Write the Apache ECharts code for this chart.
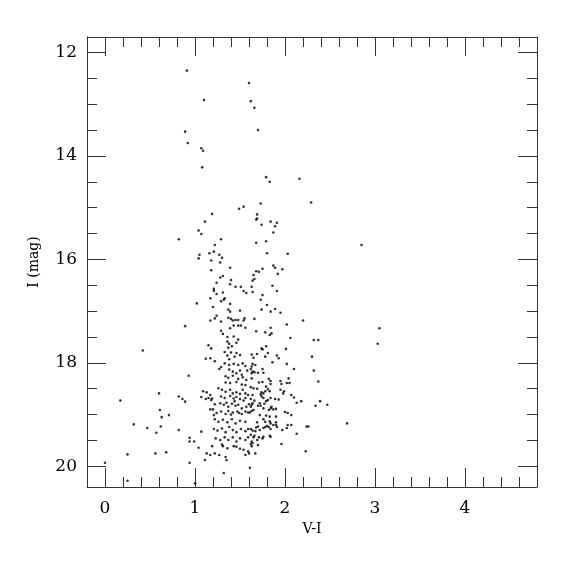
<!DOCTYPE html>
<html><head><meta charset="utf-8">
<script src="https://cdn.jsdelivr.net/npm/echarts@6/dist/echarts.min.js"></script>
<style>html,body{margin:0;padding:0;background:#fff}#c{width:575px;height:575px}</style>
</head><body><div id="c"></div>
<script>
// V-I colour values
var vi = [
0.91,1.60,1.10,1.62,1.66,1.70,0.89,0.92,1.07,1.09,1.08,1.79,1.83,2.16,2.29,1.73,1.54,1.49,1.19,1.69,1.69,1.68,1.74,1.84,1.91,1.89,1.87,1.11,1.04,1.07,0.82,1.29,
1.68,1.22,1.05,1.04,1.16,1.21,1.27,1.30,1.18,1.28,1.39,1.18,1.68,1.71,1.65,1.31,1.28,1.66,1.40,1.24,1.39,1.64,1.45,1.51,1.63,1.21,1.21,1.54,1.57,1.64,1.24,1.31,1.17,1.33,1.32,1.29,1.39,1.02,1.20,1.37,1.39,1.50,1.24,1.22,1.17,1.29,1.37,1.40,1.42,1.45,1.48,1.54,1.55,1.66,1.43,1.48,1.51,1.39,1.56,0.89,1.68,1.29,1.31,1.36,1.43,1.48,1.15,1.18,
1.79,2.85,1.80,2.03,1.87,1.89,1.97,1.75,1.92,1.86,1.91,1.75,1.73,1.80,1.74,1.89,1.84,1.95,2.20,2.02,1.84,1.78,1.85,1.83,3.05,3.03,2.06,2.32,2.37,1.79,1.74,1.75,2.01,1.69,1.81,1.63,1.91,1.78,1.65,1.93,2.30,
1.86,2.02,1.64,1.67,1.63,2.10,1.75,1.76,1.62,1.64,1.66,1.70,1.63,2.32,1.82,2.04,1.63,2.37,1.71,1.75,1.84,1.84,1.95,1.96,2.02,2.05,1.62,1.65,1.69,1.79,1.81,1.83,1.78,1.76,1.99,1.98,2.10,1.95,1.74,1.73,1.74,1.64,1.62,2.07,1.64,1.63,1.62,1.66,1.76,1.81,1.84,1.79,1.89,1.93,2.18,2.13,2.39,1.72,1.70,1.73,1.76,1.77,1.84,1.85,1.87,1.90,1.82,2.00,2.03,2.07,2.34,2.47,1.65,1.63,1.61,1.72,1.79,1.90,1.83,1.78,1.76,1.83,1.84,1.87,1.90,1.69,1.70,1.68,1.72,1.76,1.78,1.80,1.82,1.84,1.90,1.91,1.97,2.02,2.03,2.07,2.24,2.26,2.13,2.69,1.62,1.64,1.62,1.67,1.66,1.65,1.71,1.76,1.75,1.83,1.84,1.63,1.69,1.63,1.64,1.70,1.96,1.67,2.23,1.61,
0.42,1.36,1.38,1.41,1.37,1.46,1.33,1.40,1.46,1.50,1.36,1.44,1.38,1.12,1.17,1.22,1.29,1.27,1.33,1.38,1.43,1.48,1.53,1.56,1.38,1.42,1.46,1.50,1.52,1.58,0.93,1.34,1.37,1.42,1.48,1.53,1.57,1.34,1.39,1.46,1.52,1.56,1.26,1.30,1.34,1.39,1.42,1.46,1.50,1.09,1.13,1.17,1.53,1.56,1.59,0.82,0.86,0.89,1.07,1.12,1.15,1.18,1.19,1.29,1.33,1.39,1.43,1.46,1.50,1.54,1.56,1.28,1.32,1.37,1.41,1.45,1.48,1.52,1.57,1.17,1.20,
0.60,0.61,0.63,0.71,0.47,0.57,0.62,0.82,0.56,0.68,0.94,0.99,0.94,1.04,1.11,0.94,1.07,1.21,1.24,1.29,1.34,1.37,1.42,1.47,1.52,1.56,1.59,1.22,1.26,1.31,1.36,1.41,1.45,1.50,1.56,1.21,1.25,1.30,1.34,1.38,1.42,1.46,1.51,1.56,1.59,1.23,1.28,1.33,1.37,1.42,1.46,1.50,1.56,1.59,1.13,1.17,1.22,1.27,1.31,1.30,1.36,1.46,1.50,1.54,1.59,1.60,1.34,1.35,1.32,1.00,
0.17,0.32,0.25,0.00,0.25,1.19,1.43,1.56,1.62,1.22,1.35,1.44,1.60,1.40,1.49
];
// I magnitudes, same order
var imag = [
12.35,12.59,12.92,12.94,13.07,13.50,13.53,13.75,13.85,13.90,14.22,14.41,14.50,14.44,14.90,14.92,14.98,15.02,15.12,15.13,15.21,15.23,15.33,15.27,15.29,15.36,15.48,15.27,15.44,15.51,15.61,15.61,
15.68,15.72,15.91,15.98,15.88,15.85,15.91,15.97,16.02,16.06,16.16,16.21,16.23,16.24,16.30,16.32,16.35,16.38,16.40,16.45,16.48,16.41,16.53,16.53,16.53,16.57,16.61,16.61,16.65,16.63,16.67,16.64,16.75,16.75,16.78,16.81,16.86,16.85,16.92,16.97,17.01,16.99,17.09,17.14,17.18,17.20,17.13,17.15,17.18,17.17,17.17,17.18,17.14,17.15,17.28,17.28,17.28,17.33,17.32,17.29,17.39,17.38,17.44,17.50,17.49,17.55,17.66,17.72,
15.65,15.72,15.88,15.89,16.12,16.16,16.19,16.18,16.28,16.51,16.61,16.69,16.78,16.88,16.97,16.96,17.01,17.03,17.18,17.26,17.32,17.41,17.43,17.46,17.33,17.63,17.52,17.56,17.56,17.68,17.72,17.74,17.73,17.83,17.81,17.84,17.86,17.88,17.90,17.91,17.88,
17.99,18.02,18.02,18.04,18.07,18.12,18.12,18.19,18.12,18.17,18.18,18.19,18.20,18.15,18.31,18.30,18.30,18.36,18.38,18.37,18.35,18.41,18.35,18.41,18.39,18.39,18.47,18.49,18.50,18.46,18.51,18.55,18.55,18.59,18.55,18.59,18.67,18.52,18.57,18.61,18.65,18.62,18.70,18.62,18.78,18.81,18.85,18.73,18.68,18.72,18.68,18.74,18.70,18.71,18.74,18.77,18.74,18.78,18.83,18.83,18.88,18.79,18.88,18.85,18.90,18.89,18.91,18.95,18.97,19.01,18.83,18.81,18.91,18.93,18.96,19.01,19.02,19.04,19.04,19.14,19.09,19.13,19.17,19.20,19.15,19.15,19.23,19.25,19.30,19.26,19.24,19.22,19.24,19.28,19.20,19.24,19.30,19.26,19.20,19.20,19.23,19.23,19.37,19.17,19.28,19.31,19.39,19.32,19.41,19.44,19.44,19.43,19.46,19.41,19.43,19.52,19.49,19.61,19.55,19.59,19.57,19.75,19.71,20.03,
17.76,17.59,17.63,17.68,17.71,17.61,17.79,17.80,17.81,17.85,17.86,17.88,17.93,17.92,17.91,17.97,18.08,18.12,18.01,18.04,18.02,18.04,18.01,18.06,18.13,18.17,18.20,18.15,18.23,18.15,18.25,18.26,18.29,18.25,18.31,18.28,18.33,18.38,18.39,18.37,18.42,18.43,18.49,18.52,18.56,18.52,18.59,18.57,18.60,18.55,18.57,18.62,18.52,18.59,18.62,18.65,18.70,18.75,18.66,18.70,18.68,18.72,18.69,18.65,18.68,18.64,18.69,18.66,18.70,18.73,18.68,18.78,18.81,18.85,18.79,18.83,18.81,18.88,18.85,18.90,18.90,
18.59,18.91,19.05,19.01,19.26,19.35,19.23,19.30,19.75,19.73,19.45,19.52,19.52,19.64,19.88,19.93,19.33,19.01,18.97,18.94,18.99,18.93,18.96,18.94,18.99,18.94,18.96,19.09,19.14,19.10,19.15,19.09,19.17,19.12,19.14,19.28,19.31,19.27,19.34,19.24,19.30,19.34,19.28,19.32,19.28,19.46,19.49,19.44,19.49,19.44,19.52,19.46,19.49,19.44,19.75,19.78,19.75,19.78,19.61,19.58,19.65,19.62,19.66,19.68,19.71,19.75,19.82,19.88,20.13,20.33,
18.73,19.19,19.77,19.93,20.28,19.61,19.61,19.78,19.57,18.80,18.77,18.74,18.80,19.00,18.97
];
var xMajor = [0, 1, 2, 3, 4];
var yMajor = [12, 14, 16, 18, 20];
var xRange = [-0.2, 4.8];
var yRange = [11.7, 20.4];

var xMinor = [];
for (var i = -1; i <= 24; i++) { var v = Math.round(i * 2) / 10; if (v > xRange[0] && v < xRange[1] && xMajor.indexOf(v) < 0) xMinor.push(v); }
var yMinor = [];
for (var j = 23; j <= 41; j++) { var w = j / 2; if (w > yRange[0] && w < yRange[1] && yMajor.indexOf(w) < 0) yMinor.push(w); }

var pts = vi.map(function (x, k) { return [x, imag[k]]; });
var FONT = 'DejaVu Serif';
var lineCol = '#333';

function xAx(pos, ticks, len, labels, showLine) {
  var a = {
    type: 'value', position: pos, min: xRange[0], max: xRange[1],
    axisLine: { show: showLine, onZero: false, lineStyle: { color: lineCol, width: 1 } },
    axisTick: { show: true, inside: true, length: len, customValues: ticks, lineStyle: { color: lineCol, width: 1 } },
    axisLabel: labels ? { show: true, customValues: xMajor, margin: 13, fontFamily: FONT, fontSize: 17, color: '#000' } : { show: false },
    splitLine: { show: false }
  };
  return a;
}
function yAx(pos, ticks, len, labels, showLine) {
  return {
    type: 'value', position: pos, min: yRange[0], max: yRange[1], inverse: true,
    axisLine: { show: showLine, onZero: false, lineStyle: { color: lineCol, width: 1 } },
    axisTick: { show: true, inside: true, length: len, customValues: ticks, lineStyle: { color: lineCol, width: 1 } },
    axisLabel: labels ? { show: true, customValues: yMajor, margin: 10, fontFamily: FONT, fontSize: 17, color: '#000' } : { show: false },
    splitLine: { show: false }
  };
}
var xa0 = xAx('bottom', xMajor, 19, true, true);
xa0.name = 'V-I'; xa0.nameLocation = 'middle'; xa0.nameGap = 31;
xa0.nameTextStyle = { fontFamily: FONT, fontSize: 14, color: '#000' };
var ya0 = yAx('left', yMajor, 19, true, true);
ya0.name = 'I (mag)'; ya0.nameLocation = 'middle'; ya0.nameGap = 46; ya0.nameRotate = 90;
ya0.nameTextStyle = { fontFamily: FONT, fontSize: 14, color: '#000' };

var chart = echarts.init(document.getElementById('c'), null, { renderer: 'canvas' });
chart.setOption({
  animation: false,
  backgroundColor: '#fff',
  grid: { left: 87, top: 37, width: 450, height: 450, containLabel: false },
  xAxis: [xa0, xAx('bottom', xMinor, 10, false, false), xAx('top', xMajor, 19, false, true), xAx('top', xMinor, 10, false, false)],
  yAxis: [ya0, yAx('left', yMinor, 10, false, false), yAx('right', yMajor, 19, false, true), yAx('right', yMinor, 10, false, false)],
  series: [{
    type: 'scatter', xAxisIndex: 0, yAxisIndex: 0, data: pts,
    symbol: 'circle', symbolSize: 2.6, itemStyle: { color: '#000' }, silent: true
  }]
});
</script></body></html>
